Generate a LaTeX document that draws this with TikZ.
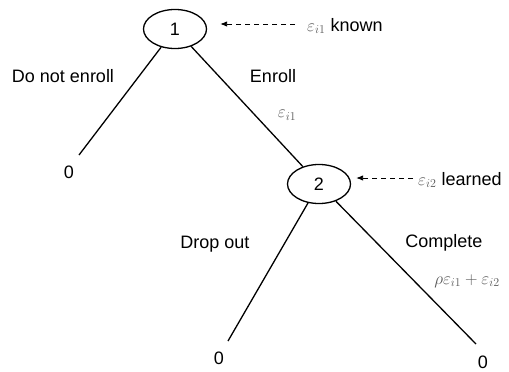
\documentclass[tikz,border=0pt]{standalone}
\usepackage{amsmath}
\usepackage{fontspec}
\setmainfont{Liberation Sans}
\usetikzlibrary{arrows.meta, shapes.geometric}
\definecolor{epsgray}{gray}{0.35}
\tikzstyle{txt} = [inner sep=0pt, font=\fontsize{18}{21}\selectfont]
\tikzstyle{choice} = [txt, draw, ellipse, line width=1.3pt,
   minimum width=63pt, minimum height=39pt]
\tikzstyle{branch} = [line width=1.3pt]
\tikzstyle{infoArrow} = [line width=0.9pt, dash pattern=on 5pt off 4pt,
   -{Latex[length=7pt,width=5.5pt]}]
\newcommand{\eps}[1]{\textcolor{epsgray}{$\varepsilon_{i#1}$}}

\begin{document}
\begin{tikzpicture}[x=1pt,y=-1pt]
  \useasboundingbox (0,0) rectangle (509,372);

  % decision nodes
  \node[choice] (a) at (175,29) {1};
  \node[choice] (b) at (319,184) {2};

  % ends of the branches
  \coordinate (e1) at (79,155);
  \coordinate (e2) at (228,341);
  \coordinate (e3) at (476,344);
  \node[txt] (z1) at (69,172) {0};
  \node[txt] (z2) at (219,358) {0};
  \node[txt] (z3) at (483,362) {0};

  % branches
  \draw[branch] (a) to (e1);
  \draw[branch] (a) to (b);
  \draw[branch] (b) to (e2);
  \draw[branch] (b) to (e3);

  % branch labels
  \node[txt] (dn) at (63,76) {Do not enroll};
  \node[txt] (en) at (273,76) {Enroll};
  \node[txt] (p1) at (287,115) {\eps{1}};
  \node[txt] (dr) at (215,244) {Drop out};
  \node[txt] (co) at (444,243) {Complete};
  \node[txt] (p2) at (467,281) {\textcolor{epsgray}{$\rho\varepsilon_{i1}+\varepsilon_{i2}$}};

  % what is known at each node
  \node[txt, anchor=west] (k1) at (307,26) {\eps{1} known};
  \node[txt, anchor=west] (k2) at (418,180) {\eps{2} learned};
  \coordinate (t1) at (295,24);
  \coordinate (t2) at (413,178);
  \draw[infoArrow, shorten >=13pt] (t1) -- (t1 -| a.east);
  \draw[infoArrow, shorten >=5pt] (t2) -- (t2 -| b.east);
\end{tikzpicture}
\end{document}
